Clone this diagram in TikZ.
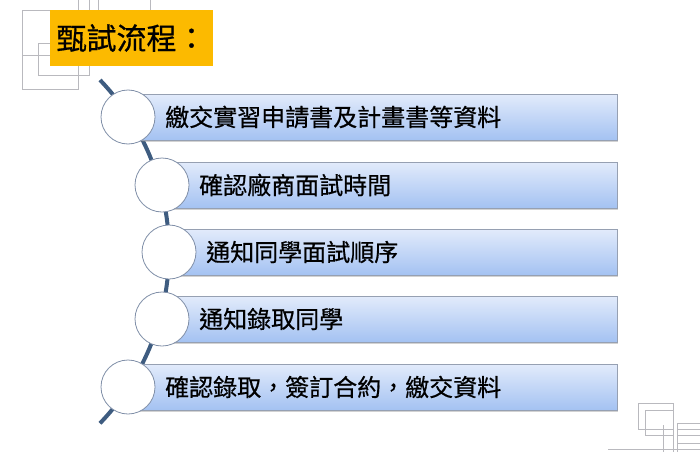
\documentclass[tikz,border=0pt]{standalone}
\usepackage{fontspec}
\newfontfamily\cjk[FakeBold=0.6]{Noto Sans CJK TC}
\usepackage{tikz}
\usetikzlibrary{positioning,shadows}
\usepackage{xcolor}
\definecolor{titlegold}{RGB}{252,186,0}
\definecolor{spineblue}{RGB}{62,92,128}
\definecolor{ringgray}{RGB}{128,143,168}
\definecolor{bartop}{RGB}{226,235,251}
\definecolor{barbottom}{RGB}{164,194,242}
\definecolor{barline}{RGB}{150,160,178}
\definecolor{decogray}{RGB}{185,185,190}

\begin{document}
\begin{tikzpicture}[x=1pt,y=-1pt]
\cjk
\tikzstyle{basenode}=[inner sep=0pt, align=left];
\tikzstyle{titlebox}=[basenode, fill=titlegold, minimum width=163pt, minimum height=56pt, font=\fontsize{30}{30}\selectfont];
\tikzstyle{bar}=[basenode, draw=barline, top color=bartop, bottom color=barbottom, minimum width=489pt, minimum height=46pt, anchor=west, drop shadow={shadow xshift=1pt, shadow yshift=-1.5pt, opacity=0.35}];
\tikzstyle{ring}=[circle, draw=ringgray, fill=white, line width=0.8pt, minimum size=54pt, inner sep=0pt];
\tikzstyle{steptext}=[basenode, font=\fontsize{24}{24}\selectfont, node distance=37pt];
\tikzstyle{spine}=[line width=4pt, spineblue];
\tikzstyle{deco}=[line width=0.7pt, decogray];

\useasboundingbox[fill=white] (0,0) rectangle (700,452);

% corner ornaments
\draw[deco] (22,10) rectangle (78,89);
\draw[deco] (38,43) rectangle (89,75);
\draw[deco] (78,0) -- (78,10);
\draw[deco] (89,0) -- (89,43);
\draw[deco] (98,0) -- (98,10);
\draw[deco] (22,55) -- (50,55);
\draw[deco] (78,10) -- (150,10);
\draw[deco] (150,0) -- (150,10);

\draw[deco] (638,403) rectangle (673,429);
\draw[deco] (645,410) rectangle (673,435);
\draw[deco] (673,429) -- (673,452);
\draw[deco] (663,425) -- (663,452);
\draw[deco] (677,423) -- (700,423);
\draw[deco] (677,423) -- (677,452);
\draw[deco] (677,429) -- (700,429);
\draw[deco] (677,435) -- (700,435);
\draw[deco] (677,443) -- (700,443);
\draw[deco] (608,449) -- (700,449);

\node[titlebox] (title) at (131.5,38) {甄試流程：};

% arc behind the circles
\coordinate (arcstart) at (100,80);
\draw[spine] (arcstart) arc[start angle=-43.8, end angle=43.8, radius=248];

\node[bar] (bar1) at (128,117) {};
\node[bar, minimum width=455pt] (bar2) at (162,185) {};
\node[bar, minimum width=448pt] (bar3) at (169,252) {};
\node[bar, minimum width=455pt] (bar4) at (162,319) {};
\node[bar] (bar5) at (128,387) {};

\node[ring] (ring1) at (bar1.west) {};
\node[ring] (ring2) at (bar2.west) {};
\node[ring] (ring3) at (bar3.west) {};
\node[ring] (ring4) at (bar4.west) {};
\node[ring] (ring5) at (bar5.west) {};

\node[steptext, right=of ring1.center] (txt1) {繳交實習申請書及計畫書等資料};
\node[steptext, right=of ring2.center] (txt2) {確認廠商面試時間};
\node[steptext, right=of ring3.center] (txt3) {通知同學面試順序};
\node[steptext, right=of ring4.center] (txt4) {通知錄取同學};
\node[steptext, right=of ring5.center] (txt5) {確認錄取，簽訂合約，繳交資料};

\end{tikzpicture}
\end{document}
